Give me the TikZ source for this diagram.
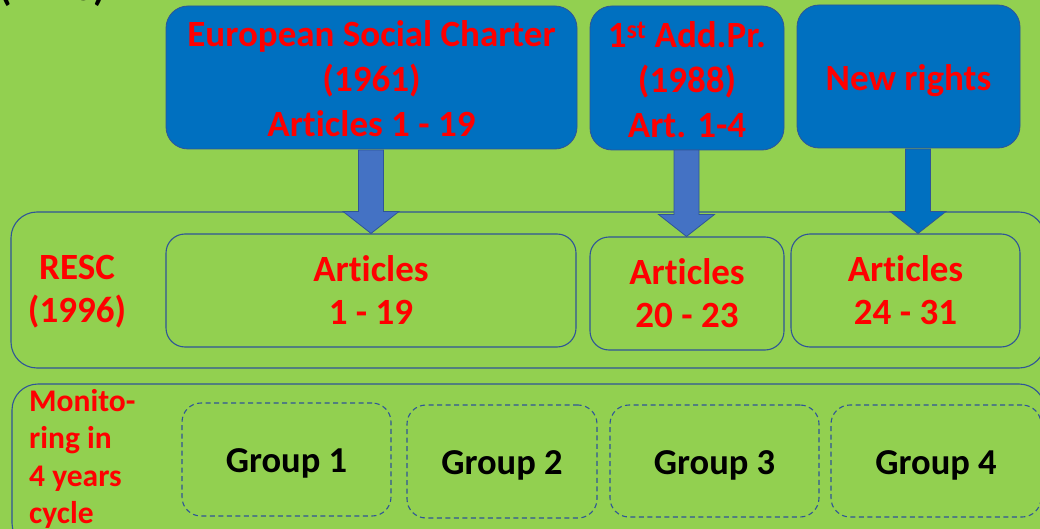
\documentclass[tikz,border=0pt]{standalone}
\usepackage{fontspec}
\setmainfont{Carlito}[RawFeature=-liga]
\usetikzlibrary{calc}
\definecolor{bg}{HTML}{92D050}
\definecolor{boxblue}{HTML}{0070C0}
\definecolor{arrblue}{HTML}{4472C4}
\definecolor{edge}{HTML}{2F5597}
\definecolor{txtred}{HTML}{FF0000}
\tikzset{
  topbox/.style={draw=edge, line width=0.8pt, fill=boxblue, rounded corners=22pt, inner sep=0pt, align=center, text=txtred, font=\bfseries\fontsize{37}{45}\selectfont},
  outerbox/.style={draw=edge, line width=1.1pt, rounded corners=26pt, inner sep=0pt},
  artbox/.style={draw=edge, line width=1.1pt, rounded corners=19pt, inner sep=0pt, align=center, text=txtred, font=\bfseries\fontsize{37}{43}\selectfont},
  groupbox/.style={draw=edge, line width=1.1pt, dash pattern=on 5pt off 3.5pt, rounded corners=19pt, inner sep=0pt, font=\bfseries\fontsize{36.5}{40}\selectfont},
  redlabel/.style={text=txtred, inner sep=0pt, align=left, font=\bfseries\fontsize{36}{43}\selectfont},
  arrA/.style={fill=arrblue, draw=edge, line width=0.8pt},
  arrB/.style={fill=boxblue, draw=edge, line width=0.8pt},
}
\newcommand\blockarr[3]{%
  \path[#1] let \p1=(#2), \p2=(#3) in
    (\x1-12.5pt,\y1) -- (\x1-12.5pt,\y2+22pt) -- (\x1-28pt,\y2+22pt) -- (\x1,\y2)
    -- (\x1+28pt,\y2+22pt) -- (\x1+12.5pt,\y2+22pt) -- (\x1+12.5pt,\y1) -- cycle;}
\newcommand\dn[2]{\raisebox{-#1pt}[\height][\depth]{#2}}
\begin{document}
\begin{tikzpicture}[x=1pt,y=-1pt]
\fill[bg] (0,0) rectangle (1040,529);
\useasboundingbox (0,0) rectangle (1040,529);

% cut-off title fragment
\node[anchor=base east, inner sep=0pt, font=\bfseries\fontsize{40}{48}\selectfont] (title) at (106,1) {(1996)};

% top boxes
\node[topbox, minimum width=411pt, minimum height=143pt] (top1) at (371.5,77.5)
  {\dn{1.5}{European Social Charter}\\\dn{1.5}{(1961)}\\\dn{1.5}{Articles 1 - 19}};
\node[topbox, minimum width=194pt, minimum height=144pt] (top2) at (687,78)
  {\dn{2}{1\textsuperscript{st} Add.Pr.}\\\dn{2}{(1988)}\\\dn{2}{Art. 1-4}};
\node[topbox, minimum width=223pt, minimum height=143pt] (top3) at (908.5,76.5)
  {\dn{4}{New rights}};

% RESC row
\node[outerbox, minimum width=1034pt, minimum height=156pt] (resc) at (528,290) {};
\node[redlabel, align=center, font=\bfseries\fontsize{37}{43}\selectfont] (resclbl) at (77,292) {RESC\\(1996)};
\node[artbox, minimum width=410pt, minimum height=113pt] (in1) at (371,290.5) {Articles\\1 - 19};
\node[artbox, minimum width=194pt, minimum height=113pt] (in2) at (687,293.5) {Articles\\20 - 23};
\node[artbox, minimum width=229pt, minimum height=113pt] (in3) at (905.5,290.5) {Articles\\24 - 31};

% arrows
\coordinate (a1) at (371,150);
\coordinate (a2) at (686.5,150);
\coordinate (a3) at (918,149);
\blockarr{arrA}{a1}{in1.north}
\blockarr{arrA}{a2}{in2.north}
\blockarr{arrB}{a3}{in3.north}

% monitoring row
\node[outerbox, minimum width=1033pt, minimum height=165pt] (mon) at (528.5,466.5) {};
\node[redlabel, anchor=north west, font=\bfseries\fontsize{31.5}{37.5}\selectfont] (monlbl) at (29,389)
  {Monito-\\ring in\\4 years\\cycle};
\node[groupbox, minimum width=209pt, minimum height=113pt] (g1) at (286.5,459.5) {\dn{4}{Group 1}};
\node[groupbox, minimum width=190pt, minimum height=113pt] (g2) at (502,461.5) {\dn{4}{Group 2}};
\node[groupbox, minimum width=209pt, minimum height=112pt] (g3) at (714.5,461) {\dn{4}{Group 3}};
\node[groupbox, minimum width=210pt, minimum height=112pt] (g4) at (936,461) {\dn{4}{Group 4}};
\end{tikzpicture}
\end{document}
